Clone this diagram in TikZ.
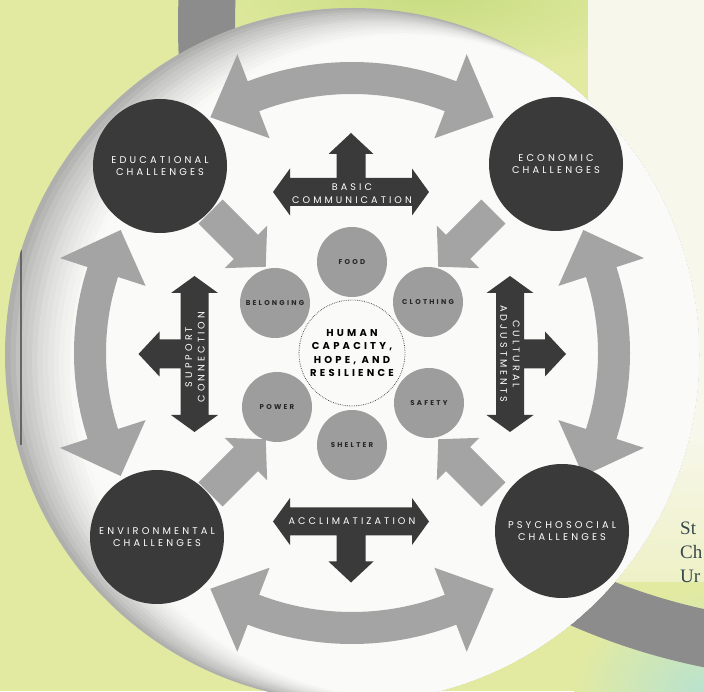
\documentclass[tikz,border=0pt]{standalone}
\usepackage{fontspec}
\setmainfont{Poppins}
\newfontfamily\labfont{Poppins}[LetterSpace=32]
\newfontfamily\pagefont{Liberation Serif}
\definecolor{bgc}{HTML}{E2EAA2}
\definecolor{bggreen}{HTML}{C6DC80}
\definecolor{tealc}{HTML}{B8E2CF}
\definecolor{palec}{HTML}{F7F7EC}
\definecolor{palery}{HTML}{EEF1C6}
\definecolor{ringc}{HTML}{8C8C8C}
\definecolor{darkc}{HTML}{3A3A3A}
\definecolor{midc}{HTML}{A4A4A4}
\definecolor{circc}{HTML}{9D9D9D}
\definecolor{paper}{HTML}{FAFAF8}
\definecolor{stc}{HTML}{34484A}
\newcommand{\carrow}[4]{%
 \pgfmathsetmacro\aP{#1+#4}\pgfmathsetmacro\aM{#1-#4}%
 \pgfmathsetmacro\tP{#1+#3}\pgfmathsetmacro\tM{#1-#3}%
 \pgfmathsetmacro\ro{#2+16}\pgfmathsetmacro\ri{#2-16}%
 \pgfmathsetmacro\ho{#2+45}\pgfmathsetmacro\hi{#2-45}%
 \fill[midc,shift={(352,338)}] (\aP:\ro pt) arc[start angle=\aP,end angle=\aM,radius=\ro pt]
  -- (\aM:\ho pt) -- (\tM:#2 pt) -- (\aM:\hi pt) -- (\aM:\ri pt)
  arc[start angle=\aM,end angle=\aP,radius=\ri pt]
  -- (\aP:\hi pt) -- (\tP:#2 pt) -- (\aP:\ho pt) -- cycle;}
\newcommand{\barrow}[1]{%
 \fill[midc,shift={(352,338)},rotate=#1] (200,17) -- (150,17) -- (150,30) -- (122,0)
  -- (150,-30) -- (150,-17) -- (200,-17) -- cycle;}
\newcommand{\tarrow}[4]{%
 \pgfmathsetmacro\sb{#4-21}%
 \fill[darkc,shift={(#1,#2)},rotate=#3] (-78,0) -- (-61,23.5) -- (-61,14) -- (-14.5,14)
  -- (-14.5,\sb) -- (-22.5,\sb) -- (0,#4) -- (22.5,\sb) -- (14.5,\sb) -- (14.5,14)
  -- (61,14) -- (61,23.5) -- (78,0) -- (61,-23.5) -- (61,-14) -- (-61,-14)
  -- (-61,-23.5) -- cycle;}
\begin{document}
\begin{tikzpicture}[x=1pt,y=1pt,
  bigc/.style={circle, fill=darkc, minimum size=134pt, inner sep=0pt, text=white,
    font=\labfont\fontsize{9.8}{11.5}\selectfont, align=center},
  smallc/.style={circle, fill=circc, minimum size=70pt, inner sep=0pt, text=black!85,
    font=\labfont\bfseries\fontsize{7}{8}\selectfont},
  hub/.style={circle, draw=black!70, line width=0.8pt, dash pattern=on 0.7pt off 1.1pt,
    fill=paper, minimum size=106pt, inner sep=0pt, align=center,
    font=\labfont\bfseries\fontsize{10}{13.5}\selectfont},
  dtext/.style={text=white, inner sep=0pt, align=center,
    font=\labfont\fontsize{9.6}{12.5}\selectfont},
  pagetext/.style={anchor=base west, inner sep=0pt, text=stc,
    font=\pagefont\fontsize{19}{24}\selectfont}]
\useasboundingbox (0,0) rectangle (704,691);
% background
\fill[bgc] (0,0) rectangle (704,691);
\shade[inner color=bggreen, outer color=bgc] (430,700) ellipse (260 and 90);
\shade[inner color=tealc, outer color=bgc] (704,0) ellipse (130 and 100);
\shade[top color=palec, bottom color=palery] (588,110) rectangle (704,260);
\fill[palec] (588,259) rectangle (704,691);
% big ring behind
\draw[ringc, line width=57pt] (833,666) circle[radius=626.5pt];
% white disc with shaded left rim
\begin{scope}
  \clip (352,336) circle[radius=347pt];
  \fill[black!30!paper] (352,336) circle[radius=350pt];
  \foreach \i in {1,...,14}{%
    \pgfmathtruncatemacro\g{round(30*(1-\i/14)^1.6)}%
    \pgfmathsetmacro\cx{352+4.2*\i}\pgfmathsetmacro\cy{336-0.9*\i}%
    \pgfmathsetmacro\rr{347-1.2*\i}%
    \fill[black!\g!paper] (\cx,\cy) circle[radius=\rr pt];}
  \draw[black!60, line width=1.3pt] (21,441) -- (21,246);
\end{scope}
% curved arrows
\carrow{90}{275}{31}{21}
\carrow{270}{275}{31}{21}
\carrow{180}{262}{28}{18}
\carrow{0}{262}{28}{18}
% block arrows toward centre
\barrow{135}\barrow{45}\barrow{225}\barrow{315}
% challenge circles
\node[bigc] (edu) at (160,525) {EDUCATIONAL\\CHALLENGES};
\node[bigc] (eco) at (556,527) {ECONOMIC\\CHALLENGES};
\node[bigc] (env) at (157,154) {ENVIRONMENTAL\\CHALLENGES};
\node[bigc] (psy) at (562,160) {PSYCHOSOCIAL\\CHALLENGES};
% dark T arrows
\tarrow{351}{499}{0}{59}
\tarrow{351}{169.5}{180}{61}
\tarrow{194.5}{337}{90}{56}
\tarrow{510}{337}{-90}{56}
\node[dtext] (basic) at (352,497.5) {BASIC\\COMMUNICATION};
\node[dtext] (accl) at (352,170) {ACCLIMATIZATION};
\node[dtext, rotate=90] (supp) at (195,334) {SUPPORT\\CONNECTION};
\node[dtext, rotate=-90] (cult) at (510,337) {CULTURAL\\ADJUSTMENTS};
% needs circles
\node[smallc] (food) at (352,429) {FOOD};
\node[smallc] (cloth) at (428,389) {CLOTHING};
\node[smallc] (belong) at (275,388) {BELONGING};
\node[smallc] (power) at (277,284) {POWER};
\node[smallc] (safety) at (429,288) {SAFETY};
\node[smallc] (shelter) at (352,246) {SHELTER};
\node[hub] (hub) at (352,338) {HUMAN\\CAPACITY,\\HOPE, AND\\RESILIENCE};
% page text at right
\node[pagetext] (st) at (680,156) {St};
\node[pagetext] (ch) at (680,132) {Ch};
\node[pagetext] (ur) at (680,108) {Ur};
\end{tikzpicture}
\end{document}
